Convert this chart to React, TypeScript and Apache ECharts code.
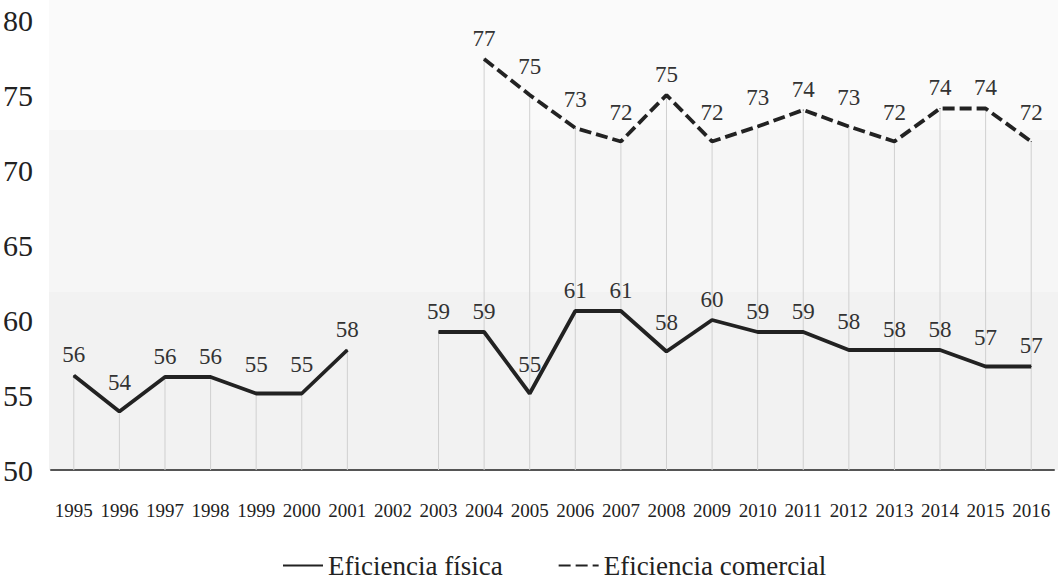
import React, { useEffect, useRef } from "react";
import * as echarts from "echarts";

const years = [
  "1995", "1996", "1997", "1998", "1999", "2000", "2001", "2002", "2003", "2004", "2005",
  "2006", "2007", "2008", "2009", "2010", "2011", "2012", "2013", "2014", "2015", "2016",
];
const fisica: (number | null)[] = [
  56.3, 53.9, 56.2, 56.2, 55.1, 55.1, 58, null, 59.2, 59.2, 55.1,
  60.6, 60.6, 57.9, 60, 59.2, 59.2, 58, 58, 58, 56.9, 56.9,
];
const comercial: (number | null)[] = [
  null, null, null, null, null, null, null, null, null, 77.4, 75,
  72.8, 71.9, 75, 71.9, 72.9, 74, 72.9, 71.9, 74.1, 74.1, 71.9,
];
const yTicks = { min: 50, max: 80, interval: 5 };

const FONT = "'Liberation Serif', 'Times New Roman', serif";

function withLabelOffsets(arr: (number | null)[]) {
  return arr.map((v, i) => {
    if (v == null) return null;
    const prev = i > 0 ? arr[i - 1] : null;
    const next = i < arr.length - 1 ? arr[i + 1] : null;
    const dip =
      (prev != null && prev - v >= 1) || (next != null && next - v >= 1);
    return { value: v, label: { distance: dip ? 17 : 9 } };
  });
}

export default function App() {
  const ref = useRef<HTMLDivElement>(null);
  useEffect(() => {
    if (!ref.current) return;
    const chart = echarts.init(ref.current, undefined, { renderer: "svg" });
    const drops = years.map((_, i) => {
      const a = fisica[i];
      const b = comercial[i];
      if (a == null && b == null) return null;
      return Math.max(a ?? -Infinity, b ?? -Infinity);
    });
    const labelCfg = {
      show: true,
      position: "top" as const,
      distance: 9,
      fontFamily: FONT,
      fontSize: 23,
      color: "#333",
      formatter: (p: any) => String(Math.round(p.value)),
    };
    chart.setOption({
      animation: false,
      backgroundColor: "#ffffff",
      graphic: [
        { type: "rect", z: -10, silent: true, shape: { x: 49, y: 0, width: 1009, height: 130 }, style: { fill: "#fafafa" } },
        { type: "rect", z: -10, silent: true, shape: { x: 49, y: 130, width: 1009, height: 162 }, style: { fill: "#f6f6f6" } },
        { type: "rect", z: -10, silent: true, shape: { x: 49, y: 292, width: 1009, height: 178 }, style: { fill: "#f2f2f2" } },
      ],
      grid: { left: 51, right: 8, top: 20, bottom: 113, containLabel: false },
      legend: {
        data: ["Eficiencia física", "Eficiencia comercial"],
        top: 552,
        left: 282,
        padding: 0,
        itemWidth: 40,
        itemHeight: 14,
        itemGap: 55,
        itemStyle: { opacity: 0 },
        textStyle: { fontFamily: FONT, fontSize: 27, color: "#222" },
      },
      xAxis: {
        type: "category",
        data: years,
        boundaryGap: true,
        axisLine: { show: true, lineStyle: { color: "#555", width: 2 } },
        axisTick: { show: false },
        axisLabel: { fontFamily: FONT, fontSize: 19, color: "#222", margin: 31, interval: 0 },
        splitLine: { show: false },
      },
      yAxis: {
        type: "value",
        min: yTicks.min,
        max: yTicks.max,
        interval: yTicks.interval,
        axisLine: { show: false },
        axisTick: { show: false },
        splitLine: { show: false },
        axisLabel: { fontFamily: FONT, fontSize: 30, color: "#222", margin: 18 },
      },
      series: [
        {
          name: "drops",
          type: "bar",
          data: drops,
          barWidth: 1,
          silent: true,
          z: 1,
          itemStyle: { color: "#d0d0d0" },
          label: { show: false },
        },
        {
          name: "Eficiencia física",
          type: "line",
          data: withLabelOffsets(fisica),
          z: 3,
          symbol: "circle",
          symbolSize: 1,
          connectNulls: false,
          lineStyle: { color: "#222", width: 3.8, type: "solid" },
          itemStyle: { color: "#222" },
          label: labelCfg,
        },
        {
          name: "Eficiencia comercial",
          type: "line",
          data: withLabelOffsets(comercial),
          z: 3,
          symbol: "circle",
          symbolSize: 1,
          connectNulls: false,
          lineStyle: { color: "#222", width: 3.8, type: [12, 5] },
          itemStyle: { color: "#222" },
          label: labelCfg,
        },
      ],
    });
    return () => chart.dispose();
  }, []);
  return (
    <div
      ref={ref}
      style={{ position: "fixed", left: 0, top: 0, width: 1062, height: 583 }}
    />
  );
}
